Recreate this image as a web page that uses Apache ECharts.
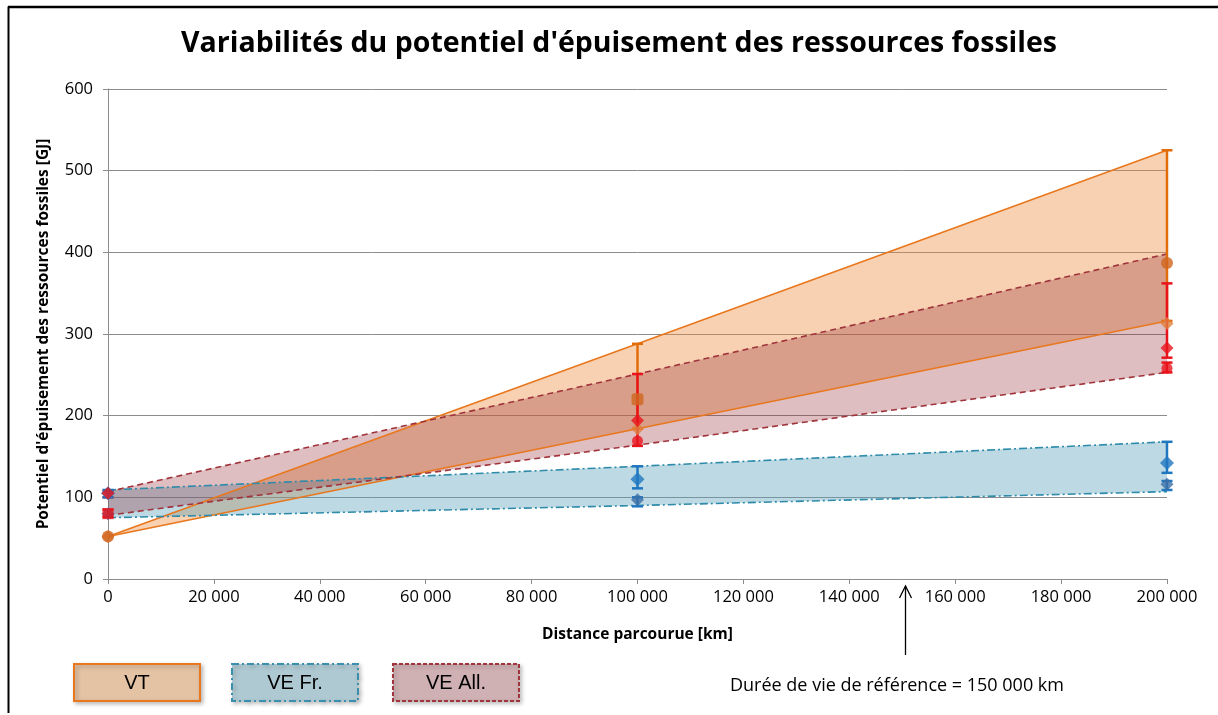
<!DOCTYPE html>
<html>
<head>
<meta charset="utf-8">
<script src="https://cdn.jsdelivr.net/npm/echarts@6/dist/echarts.min.js"></script>
<style>html,body{margin:0;padding:0;background:#fff}#c{width:1218px;height:715px}</style>
</head>
<body>
<div id="c"></div>
<script>
// ---- Data ----
const distances = [0, 100000, 200000];
const vtUpper = [52, 288, 525];
const vtLower = [52, 184, 316];
const veFrUpper = [109, 138, 168];
const veFrLower = [75, 90, 107];
const veAllUpper = [107, 251, 398];
const veAllLower = [78, 164, 253];

const vtMarkA = [52, 220, 387];
const vtMarkB = [52, 184, 313];
const veAllMarkA = [105, 194, 283];
const veAllMarkB = [80, 169, 258];
const veFrMarkA = [105, 122, 142];
const veFrMarkB = [80, 97, 116];

// error bars: [distance, low, high]
const vtErr = [[100000, 184, 288], [200000, 316, 525]];
const veAllErr = [[0, 100, 108], [0, 76, 85], [100000, 163, 251], [200000, 271, 362], [200000, 253, 265]];
const veFrErr = [[0, 100, 109], [100000, 111, 138], [100000, 89, 100], [200000, 130, 168], [200000, 109, 120]];

const yTicks = [0, 100, 200, 300, 400, 500, 600];
const legendNames = ['VT', 'VE Fr.', 'VE All.'];
const annotationText = 'Durée de vie de référence = 150 000 km';
const annotationDistance = 150000;

// ---- Helpers ----
function pts(arr) { return distances.map((d, i) => [d, arr[i]]); }
function band(upper, lower, fill) {
  return {
    type: 'custom', data: [[0, 0]], encode: {x: 0, y: 1}, silent: true, z: 1,
    renderItem: function (params, api) {
      const p = [];
      distances.forEach((d, i) => p.push(api.coord([d, upper[i]])));
      for (let i = distances.length - 1; i >= 0; i--) p.push(api.coord([distances[i], lower[i]]));
      return {type: 'polygon', shape: {points: p}, style: {fill: fill}};
    }
  };
}
function line(arr, color, dash) {
  return {type: 'line', data: pts(arr), symbol: 'none', z: 3, silent: true,
    lineStyle: {color: color, width: 1.6, type: dash}};
}
function errBars(data, color) {
  return {
    type: 'custom', data: data, encode: {x: 0, y: [1, 2]}, z: 4, silent: true,
    renderItem: function (params, api) {
      const x = api.value(0);
      const a = api.coord([x, api.value(1)]);
      const b = api.coord([x, api.value(2)]);
      const w = 5.5;
      const st = {stroke: color, lineWidth: 2.5};
      return {type: 'group', children: [
        {type: 'line', shape: {x1: a[0], y1: a[1], x2: b[0], y2: b[1]}, style: st},
        {type: 'line', shape: {x1: a[0] - w, y1: a[1], x2: a[0] + w, y2: a[1]}, style: st},
        {type: 'line', shape: {x1: b[0] - w, y1: b[1], x2: b[0] + w, y2: b[1]}, style: st}
      ]};
    }
  };
}
function marks(arr, color, symbols, size) {
  return {type: 'scatter', z: 5, silent: true,
    data: distances.map((d, i) => ({value: [d, arr[i]], symbol: symbols[i]})),
    symbolSize: size, itemStyle: {color: color}};
}
function fmt(v) { return String(v).replace(/\B(?=(\d{3})+(?!\d))/g, ' '); }

const chart = echarts.init(document.getElementById('c'));
const font = '"Open Sans", sans-serif';

const legendBoxes = [
  {x: 74, fill: '#E4C2A4', stroke: '#E8771E', dash: 'solid'},
  {x: 232, fill: '#AFC9D2', stroke: '#3A8FAE', dash: [7, 3, 2, 3]},
  {x: 393, fill: '#CFB0B3', stroke: '#A0343C', dash: [4, 2]}
];

function buildGraphic(ax) {
  const els = [
    {id: 'fl', type: 'line', shape: {x1: 8.5, y1: 713, x2: 8.5, y2: 6.5}, style: {stroke: '#000', lineWidth: 2}, silent: true},
    {id: 'ft', type: 'line', shape: {x1: 8, y1: 7, x2: 1218, y2: 7}, style: {stroke: '#000', lineWidth: 2.5}, silent: true}
  ];
  legendBoxes.forEach((b, i) => {
    els.push({id: 'lg' + i, type: 'group', x: b.x, y: 664, silent: true, children: [
      {type: 'rect', shape: {x: 0, y: 0, width: 126, height: 37},
        style: {fill: b.fill, stroke: b.stroke, lineWidth: 2, lineDash: b.dash === 'solid' ? null : b.dash,
          shadowBlur: 4, shadowOffsetX: 2, shadowOffsetY: 2, shadowColor: 'rgba(0,0,0,0.25)'}},
      {type: 'text', style: {text: legendNames[i], x: 63, y: 19, textAlign: 'center', textVerticalAlign: 'middle',
        fontFamily: '"Liberation Sans", Arial, sans-serif', fontSize: 20, fill: '#000'}}
    ]});
  });
  els.push({id: 'ann', type: 'text', silent: true,
    style: {text: annotationText, x: 897, y: 686, textAlign: 'center', textVerticalAlign: 'middle',
      fontFamily: font, fontSize: 18, fill: '#000'}});
  if (ax != null) {
    els.push({id: 'arl', type: 'line', silent: true, shape: {x1: ax, y1: 655, x2: ax, y2: 586}, style: {stroke: '#000', lineWidth: 1.3}});
    els.push({id: 'arh', type: 'polyline', silent: true, shape: {points: [[ax - 6, 598], [ax, 586], [ax + 6, 598]]},
      style: {stroke: '#000', lineWidth: 1.3, fill: 'none'}});
  }
  return els;
}

chart.setOption({
  animation: false,
  backgroundColor: '#fff',
  title: {text: 'Variabilités du potentiel d\'épuisement des ressources fossiles', left: 614, top: 24, textAlign: 'center',
    textStyle: {fontFamily: font, fontWeight: 'bold', fontSize: 28.5, color: '#000'}},
  grid: {left: 108, right: 51, top: 89, bottom: 136},
  xAxis: {type: 'value', min: 0, max: 200000, interval: 20000,
    name: 'Distance parcourue [km]', nameLocation: 'middle', nameGap: 48,
    nameTextStyle: {fontFamily: font, fontWeight: 'bold', fontSize: 15.5, color: '#000'},
    axisLine: {lineStyle: {color: '#8c8c8c', width: 1}},
    axisTick: {show: true, length: 5, lineStyle: {color: '#8c8c8c'}},
    axisLabel: {fontFamily: font, fontSize: 16.5, color: '#000', margin: 10, formatter: fmt},
    splitLine: {show: false}},
  yAxis: {type: 'value', min: yTicks[0], max: yTicks[yTicks.length - 1], interval: 100,
    name: 'Potentiel d\'épuisement des ressources fossiles [GJ]', nameLocation: 'middle', nameGap: 56, nameRotate: 90,
    nameTextStyle: {fontFamily: font, fontWeight: 'bold', fontSize: 15.5, color: '#000'},
    axisLine: {show: true, lineStyle: {color: '#8c8c8c', width: 1}},
    axisTick: {show: true, length: 5, lineStyle: {color: '#8c8c8c'}},
    axisLabel: {fontFamily: font, fontSize: 16.5, color: '#000', margin: 15},
    splitLine: {lineStyle: {color: '#8c8c8c', width: 1}}},
  series: [
    band(vtUpper, vtLower, 'rgba(235,140,60,0.40)'),
    band(veFrUpper, veFrLower, 'rgba(90,160,185,0.40)'),
    band(veAllUpper, veAllLower, 'rgba(150,40,50,0.30)'),
    line(vtUpper, '#E8771E', 'solid'),
    line(vtLower, '#E8771E', 'solid'),
    line(veFrUpper, '#2E8BAA', [8, 3, 2, 3]),
    line(veFrLower, '#2E8BAA', [8, 3, 2, 3]),
    line(veAllUpper, '#A0343C', [6, 4]),
    line(veAllLower, '#A0343C', [6, 4]),
    errBars(vtErr, '#E36C0A'),
    errBars(veAllErr, '#E8141B'),
    errBars(veFrErr, '#1F77C0'),
    marks(vtMarkB, '#E08040', ['diamond', 'diamond', 'diamond'], 13),
    marks(vtMarkA, '#D0651E', ['circle', 'roundRect', 'circle'], 12),
    marks(veFrMarkB, '#3C6FA8', ['diamond', 'diamond', 'diamond'], 13),
    marks(veFrMarkA, '#1F78C1', ['diamond', 'diamond', 'diamond'], 14),
    marks(veAllMarkB, '#E8141B', ['rect', 'circle', 'circle'], 11),
    marks(veAllMarkA, '#E8141B', ['diamond', 'diamond', 'diamond'], 13)
  ],
  graphic: buildGraphic(null)
});

// annotation arrow at reference distance, positioned through the axis scale
const ax = Math.round(chart.convertToPixel({xAxisIndex: 0}, annotationDistance)) + 3.5;
chart.setOption({graphic: buildGraphic(ax)});
</script>
</body>
</html>
